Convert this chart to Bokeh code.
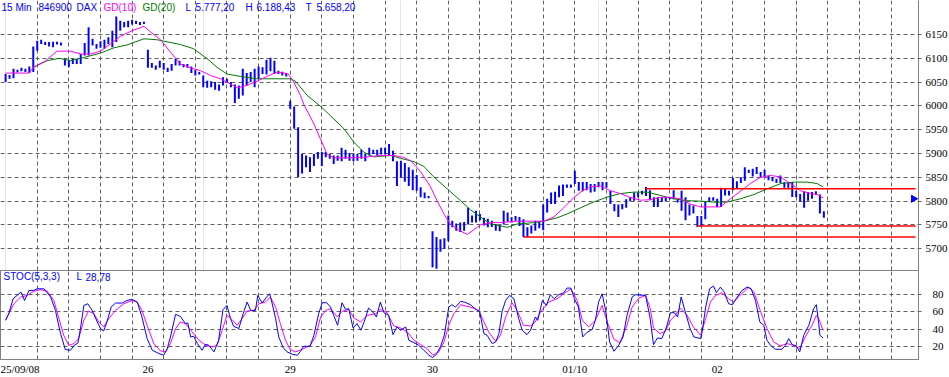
from bokeh.plotting import figure
from bokeh.layouts import column
from bokeh.models import FixedTicker, Grid, Range1d, Label
from bokeh.embed import file_html
from bokeh.resources import INLINE
import math

# ---------------- data ----------------
day_tick_bars = [3, 36, 72, 108, 144, 180]
day_labels = ["25/09/08", "26", "29", "30", "01/10", "02"]
price_ticks = [5700, 5750, 5800, 5850, 5900, 5950, 6000, 6050, 6100, 6150]
stoch_ticks = [20, 40, 60, 80]

bar_high = [6067, 6065, 6078, 6076, 6080, 6078, 6083, 6125, 6137, 6139,
            6134, 6134, 6135, 6135, 6133, 6099, 6095, 6099, 6099, 6109,
            6132, 6165, 6141, 6130, 6136, 6139, 6144, 6158, 6188, 6179,
            6176, 6179, 6181, 6179, 6176, 6177, 6118, 6090, 6085, 6095,
            6090, 6080, 6088, 6099, 6095, 6088, 6088, 6083, 6076, 6071,
            6064, 6053, 6052, 6050, 6045, 6060, 6057, 6050, 6045, 6043,
            6078, 6069, 6071, 6078, 6083, 6081, 6097, 6101, 6095, 6074,
            6072, 6069, 6011, 5999, 5955, 5899, 5896, 5892, 5899, 5903,
            5903, 5903, 5899, 5896, 5896, 5912, 5908, 5901, 5899, 5899,
            5908, 5899, 5912, 5908, 5908, 5912, 5912, 5920, 5906, 5884,
            5885, 5880, 5871, 5866, 5855, 5829, 5818, 5811, 5737, 5725,
            5720, 5722, 5770, 5759, 5753, 5755, 5756, 5786, 5770, 5780,
            5773, 5765, 5763, 5759, 5752, 5750, 5780, 5776, 5766, 5769,
            5767, 5762, 5745, 5749, 5759, 5758, 5793, 5805, 5818, 5820,
            5833, 5835, 5835, 5835, 5864, 5840, 5840, 5840, 5836, 5836,
            5840, 5840, 5840, 5822, 5794, 5793, 5794, 5804, 5808, 5818,
            5818, 5822, 5830, 5823, 5808, 5808, 5808, 5809, 5809, 5823,
            5804, 5822, 5808, 5793, 5791, 5769, 5769, 5798, 5808, 5808,
            5805, 5828, 5826, 5822, 5849, 5842, 5850, 5871, 5866, 5868,
            5872, 5861, 5866, 5854, 5850, 5847, 5854, 5840, 5840, 5840,
            5822, 5815, 5821, 5819, 5819, 5821, 5814, 5779]
bar_low = [6050, 6057, 6058, 6070, 6073, 6071, 6069, 6071, 6116, 6130,
           6128, 6125, 6123, 6129, 6127, 6085, 6081, 6088, 6088, 6088,
           6106, 6106, 6127, 6120, 6122, 6120, 6130, 6123, 6134, 6158,
           6165, 6165, 6171, 6172, 6170, 6172, 6080, 6080, 6076, 6080,
           6076, 6071, 6074, 6085, 6085, 6081, 6080, 6069, 6064, 6066,
           6039, 6038, 6039, 6034, 6032, 6043, 6050, 6039, 6006, 6015,
           6022, 6043, 6050, 6039, 6057, 6067, 6066, 6073, 6067, 6067,
           6064, 6062, 5994, 5952, 5851, 5858, 5871, 5861, 5874, 5889,
           5874, 5892, 5889, 5878, 5885, 5884, 5889, 5885, 5884, 5885,
           5889, 5884, 5896, 5899, 5896, 5898, 5898, 5896, 5884, 5832,
           5850, 5841, 5832, 5823, 5822, 5808, 5806, 5806, 5661, 5658,
           5694, 5700, 5716, 5745, 5738, 5735, 5738, 5751, 5755, 5755,
           5760, 5749, 5745, 5746, 5738, 5737, 5751, 5757, 5755, 5759,
           5748, 5725, 5725, 5732, 5738, 5743, 5739, 5776, 5794, 5794,
           5808, 5811, 5828, 5828, 5836, 5822, 5821, 5823, 5818, 5820,
           5829, 5823, 5828, 5794, 5779, 5767, 5783, 5786, 5800, 5801,
           5808, 5814, 5811, 5802, 5788, 5788, 5798, 5800, 5804, 5804,
           5797, 5780, 5760, 5770, 5774, 5746, 5748, 5762, 5798, 5801,
           5787, 5788, 5812, 5812, 5823, 5826, 5838, 5843, 5859, 5852,
           5857, 5850, 5852, 5844, 5842, 5838, 5838, 5828, 5828, 5809,
           5808, 5800, 5786, 5801, 5805, 5814, 5774, 5765]

gd10_bar = [0, 6, 7, 10, 13, 16.4, 19, 21.5, 24, 26.5, 29, 32, 35, 36.7, 39.2,
            41.7, 44.2, 46.8, 49.3, 51.8, 54.4, 56.9, 58.6, 61, 63.6, 66.1, 68.7,
            71.4, 72.9, 74.6, 75.4, 78, 80, 81.3, 83, 86.4, 90.6, 94.8, 98.2,
            100.7, 102.4, 103.3, 105, 107.5, 109.2, 110.9, 112.5, 114.5, 116.8,
            118, 120.1, 122.7, 125.2, 129.4, 133.6, 136.2, 138.7, 141.2, 143.8,
            145.8, 147.9, 150.5, 153, 155.5, 158, 160.6, 163, 165.6, 168.2,
            170.7, 173.2, 175.8, 180.8, 183.4, 185.9, 188.4, 191, 193.5, 196,
            198.5, 201.1, 203.6, 205.3, 206.8]
gd10_val = [6069, 6069, 6081, 6094, 6115, 6115, 6109, 6109, 6115, 6130, 6146,
            6158, 6167, 6155, 6139, 6113, 6088, 6080, 6074, 6064, 6057, 6046,
            6038, 6043, 6052, 6062, 6071, 6068, 6050, 6022, 6004, 5962, 5924,
            5899, 5891, 5891, 5892, 5896, 5896, 5892, 5885, 5878, 5862, 5830,
            5800, 5773, 5752, 5740, 5730, 5737, 5750, 5755, 5755, 5758, 5758,
            5758, 5767, 5786, 5808, 5821, 5830, 5832, 5822, 5816, 5808, 5802,
            5803, 5808, 5808, 5805, 5794, 5788, 5788, 5805, 5821, 5837, 5850,
            5854, 5851, 5837, 5822, 5816, 5814, 5807]

gd20_bar = [7, 10.5, 13.5, 16.4, 20, 24, 27.4, 30.7, 35, 38.3, 44.2, 47.6, 51,
            53.5, 56, 59.4, 63.6, 67.9, 72.1, 73.3, 76.3, 79.7, 83, 85.6, 88.1,
            90.6, 93.1, 97.4, 99.9, 103.3, 105.8, 108.3, 111.7, 115.1, 117.6,
            120.1, 122.7, 125.2, 126.9, 129.4, 133.6, 136.2, 139.5, 142, 145.4,
            148.7, 152, 155.5, 158.9, 162.3, 165.6, 169, 172.4, 175.8, 179.2,
            182.5, 185.9, 189.3, 192.7, 196.1, 199.5, 202.8, 205.3, 206.8]
gd20_val = [6081, 6095, 6100, 6095, 6102, 6111, 6122, 6128, 6141, 6139, 6129,
            6120, 6099, 6081, 6067, 6062, 6057, 6057, 6057, 6052, 6022, 5999,
            5973, 5952, 5924, 5903, 5893, 5896, 5890, 5883, 5873, 5851, 5826,
            5801, 5782, 5767, 5752, 5748, 5745, 5752, 5755, 5758, 5765, 5773,
            5786, 5798, 5808, 5816, 5819, 5819, 5812, 5805, 5801, 5800, 5798,
            5798, 5805, 5814, 5826, 5837, 5840, 5840, 5837, 5830]

stk_bar = [0, 0.8, 1.9, 3.4, 3.9, 4.8, 5.9, 7.1, 8, 9.7, 11.4, 12.6, 13.9, 15.1,
           16.4, 17.4, 18.3, 19, 19.8, 20.8, 21.9, 23.2, 24, 24.8, 25.5, 26.7,
           27.8, 29.5, 30.7, 32, 33.3, 34.5, 35.8, 37.1, 38.8, 40, 40.9, 41.7,
           43, 44.2, 45.5, 46.1, 46.8, 47.6, 48.5, 49.7, 50.6, 51.4, 52.7, 53.9,
           55, 56, 56.9, 57.7, 59, 60.1, 61.1, 62, 63.2, 63.8, 64.9, 66, 66.8,
           67.4, 68.3, 69.1, 70.2, 71.2, 72.5, 73.8, 74.6, 75.4, 77, 78, 79.2,
           80.1, 81.2, 82.2, 83, 84, 85.1, 86, 86.8, 87.9, 88.9, 89.9, 91, 91.8,
           92.9, 93.8, 94.8, 95.7, 96.9, 98, 99, 99.9, 101.2, 102, 103.3, 104.5,
           105.8, 107.1, 108, 108.9, 110, 111, 112.1, 112.9, 113.8, 115.1,
           116.1, 117.6, 118.9, 119.9, 121, 121.8, 123.1, 124, 124.8, 125.6,
           126.5, 127.5, 128.6, 129.8, 130.7, 131.9, 132.8, 134, 134.6, 135.8,
           136.8, 137.8, 138.8, 139.9, 141.2, 142, 143, 143.9, 144.9, 146, 147,
           148.4, 149.2, 150, 150.9, 151.8, 152.8, 153.9, 155.1, 156.2, 157.2,
           158.5, 159.3, 161.9, 163, 163.9, 164.9, 166, 167.2, 168.2, 169.2, 170,
           170.9, 172, 173.1, 174.1, 175.8, 176.2, 177.1, 178.1, 179.1, 179.8,
           180.8, 181.8, 182.9, 183.9, 184.9, 186.3, 187.6, 188.6, 189.7, 190.8,
           191.8, 192.6, 193.5, 194.7, 196.4, 197.3, 198.1, 199, 200, 200.9,
           201.9, 203.2, 204.4, 205.1, 205.7, 206, 206.8]
stk_val = [50.4, 58, 75, 80.7, 82.6, 73, 84.5, 84.5, 86.4, 86.4, 77, 61.7, 35.2,
           17, 16.2, 21.9, 24.5, 42.8, 67.4, 69.3, 61.7, 48.5, 40.9, 38.2, 46.6,
           65.5, 70.1, 70.1, 73.1, 74.3, 71.2, 54.1, 29.5, 16.2, 12.4, 10.5,
           18.1, 31.4, 57.2, 54.9, 46.6, 47.3, 31.4, 32.1, 23.8, 16.2, 23, 21.9,
           14.3, 27.6, 62.5, 67.4, 52.3, 43.5, 40.9, 58, 71.2, 61.7, 61.7, 78.8,
           70.1, 76.9, 80.7, 70.1, 52.3, 31.4, 19.2, 14.3, 11.6, 10.5, 15, 20.7,
           20.7, 33.3, 58, 70.5, 70.5, 65.5, 56, 44.7, 70.5, 62.9, 63.6, 41.6,
           46.6, 39, 52.3, 64.4, 59.9, 54.2, 71.2, 59.1, 56, 34, 42.8, 39, 42.8,
           27.6, 24.9, 21.9, 16.2, 10.5, 7.8, 11.2, 20, 33.3, 65.5, 68.2, 65.5,
           72, 71.2, 68.2, 62.9, 60.6, 35.2, 33.3, 23.8, 25.7, 35.2, 60.6, 73.1,
           78.8, 75, 52.3, 39, 34, 39, 54.2, 50.4, 73.1, 67.4, 79.6, 75, 79.6,
           81.9, 87.2, 87.2, 75, 65.5, 31.4, 36.3, 40.1, 50.4, 71.2, 80.7, 61.7,
           25.7, 15, 21.9, 31.4, 56, 77, 79.6, 78.8, 54.2, 22.6, 30.2, 29.5,
           42.8, 59.1, 59.1, 54.2, 77, 59.1, 41.6, 31.4, 29.5, 37.1, 65.5, 86.4,
           89.5, 81.9, 88.3, 82.6, 69.3, 68.2, 75.8, 84.5, 88.3, 86.4, 73.1,
           48.5, 44.7, 27.6, 21.9, 17.3, 17.3, 21.9, 29.5, 22.6, 21.1, 14.3,
           33.3, 44.7, 63.6, 68.2, 46.6, 33.3, 30.2]

std_bar = [0, 2.1, 3.8, 5.5, 7.2, 8.8, 10.5, 12.2, 13.5, 14.7, 16, 17.3, 18.5,
           19.8, 21, 22.3, 23.6, 24.8, 26.1, 27.8, 29.9, 32, 33.3, 34.5, 35.8,
           37.5, 39.2, 40.5, 41.7, 43, 44.2, 45.5, 47.2, 48.9, 50.6, 52.3, 53.5,
           54.8, 56, 57.3, 58.6, 59.8, 61.1, 62.8, 64.1, 65.7, 67, 68.3, 69.5,
           70.8, 72, 73.3, 75, 77.1, 78.4, 79.7, 81, 82.2, 83.9, 85.1, 86.8,
           88.1, 89.8, 91.5, 93.6, 94.8, 96.5, 98.2, 99.9, 101.6, 103.3, 105,
           106.6, 108.1, 109.6, 110.9, 112.1, 113.4, 115.1, 117.6, 119.7, 121,
           122.2, 124, 125.2, 126.5, 128.1, 129.4, 131, 132.8, 134, 135.3,
           137.4, 139.5, 141.2, 143, 144.6, 145.9, 147.5, 149.2, 150.9, 152.2,
           153.9, 155.4, 157.2, 158.5, 160.2, 161.9, 163.1, 163.9, 165.5, 166.9,
           168.2, 169.4, 170.7, 172.3, 174, 175.8, 177.1, 178.3, 179.6, 181.2,
           182.9, 184.2, 185.9, 188, 189.3, 190.9, 192.6, 194.3, 196, 197.7,
           199.3, 200.9, 202.3, 204, 205.1, 205.7, 206.8]
std_val = [50.4, 69.3, 76.9, 78.8, 83.8, 85.3, 83.8, 73.1, 52.3, 33.3, 21.9,
           23.8, 29.5, 50.4, 61, 58, 48.5, 42.8, 52.3, 61.7, 69.3, 73.1, 71.2,
           61.7, 44.7, 23.8, 15.4, 14.3, 23.8, 40.9, 48.5, 46.6, 37.1, 27.6,
           21.9, 20, 21.9, 39, 56.1, 51.1, 44.7, 52.3, 61, 61.7, 69.3, 71.2,
           76.9, 65.5, 46.6, 27.6, 17, 14.3, 17, 21.9, 31.4, 54.2, 61.7, 63.6,
           54.2, 60.6, 62.9, 53, 48.5, 56, 57.9, 62.9, 59.1, 43.9, 41.6, 37.1,
           27.6, 22.6, 18.1, 10.5, 14.3, 25.7, 44.7, 58, 68.2, 65.5, 61.7, 48.5,
           37.1, 26.4, 33.3, 54.2, 70.5, 61.7, 44.7, 43.9, 48.5, 59.9, 71.2, 75,
           80.7, 86.4, 73.1, 50.4, 42.8, 50.4, 67.4, 48.5, 28.7, 24.9, 44.7,
           65.5, 75.8, 78.8, 63.6, 41.6, 35.2, 37.8, 50.4, 56, 64.4, 56.8, 42.8,
           33.3, 52.3, 71.2, 78.8, 81.9, 75, 71.2, 79.6, 88.3, 82.6, 61.7, 40.9,
           25.7, 21.1, 23.8, 21.9, 18.1, 31.4, 44.7, 56, 52.3, 39]

# horizontal (support / resistance) lines drawn in the chart
hline_start_bar = [162, 131, 175]
hline_price = [5826, 5725, 5748]
hline_end_bar = 230.2
marker_price = 5805

header_items = ["15 Min", "846900", "DAX", "GD(10)", "GD(20)",
                "L", "5.777,20", "H", "6.188,43", "T", "5.658,20"]
stoc_items = ["STOC(5,3,3)", "L", "28,78"]

# ---------------- styling / geometry ----------------
BLUE = "#0000FF"
MAGENTA = "#FF00FF"
GREEN = "#007800"
RED = "#FF0000"
GRID = "#606060"
AXIS = "#808080"

X0_PX, DX_PX = 5.1, 3.953          # pixel position of bar 0 and bar spacing
FRAME_W, MAIN_H, STOC_H = 918, 270, 89
P_TOP, P_BOT = 6221.4, 5654.4
S_TOP, S_BOT = 107.3, 5.6

def bx(px):
    return (px - X0_PX) / DX_PX

def py(px):
    return P_TOP - px * (P_TOP - P_BOT) / MAIN_H

def sy(px):
    return S_TOP - (px - MAIN_H) * (S_TOP - S_BOT) / STOC_H

xr = Range1d(bx(0), bx(FRAME_W))
vgrid_ticks = list(range(8, 231, 8))

# ---------------- main price panel ----------------
p = figure(frame_width=FRAME_W, frame_height=MAIN_H, x_range=xr,
           y_range=Range1d(P_BOT, P_TOP), output_backend="svg",
           toolbar_location=None, x_axis_location=None, y_axis_location="right",
           min_border_left=0, min_border_top=0, min_border_bottom=0,
           min_border_right=0, background_fill_color="white",
           border_fill_color="white")
p.outline_line_color = None
p.yaxis.ticker = FixedTicker(ticks=price_ticks)
p.yaxis.axis_line_color = AXIS
p.yaxis.major_tick_line_color = GRID
p.yaxis.major_tick_out = 3
p.yaxis.major_tick_in = 0
p.yaxis.minor_tick_line_color = None
p.yaxis.major_label_standoff = 4
p.yaxis.major_label_text_font = "Liberation Serif"
p.yaxis.major_label_text_font_size = "11px"
p.yaxis.major_label_text_color = "black"
p.ygrid.grid_line_color = GRID
p.ygrid.grid_line_dash = "4 3"
p.add_layout(Grid(dimension=0, ticker=FixedTicker(ticks=vgrid_ticks),
                  grid_line_color=GRID, grid_line_dash="4 3"))

idx = list(range(len(bar_high)))
p.vbar(x=idx, width=0.5, top=bar_high, bottom=bar_low, fill_color=BLUE,
       line_color=None)
p.line(gd20_bar, gd20_val, line_color=GREEN, line_width=1)
p.line(gd10_bar, gd10_val, line_color=MAGENTA, line_width=1)
p.segment(x0=hline_start_bar, y0=hline_price,
          x1=[hline_end_bar] * len(hline_price), y1=hline_price,
          line_color=RED, line_width=1.5)
p.scatter(x=[bx(913)], y=[marker_price], marker="triangle", angle=-math.pi / 2,
          size=7, fill_color=BLUE, line_color=BLUE)

header_px = [1, 38, 76, 103, 142, 185, 195, 245, 256, 305, 316]
header_col = [BLUE, BLUE, BLUE, MAGENTA, GREEN, BLUE, BLUE, BLUE, BLUE, BLUE, BLUE]
for t, xp, c in zip(header_items, header_px, header_col):
    p.add_layout(Label(x=bx(xp), y=py(6.5), text=t, text_color=c,
                       text_font="Liberation Sans", text_font_size="10px",
                       text_baseline="middle", text_align="left"))

# ---------------- stochastic panel ----------------
p2 = figure(frame_width=FRAME_W, frame_height=STOC_H, x_range=xr,
            y_range=Range1d(S_BOT, S_TOP), output_backend="svg",
            toolbar_location=None, x_axis_location="below", y_axis_location="right",
            min_border_left=0, min_border_top=0, min_border_bottom=0,
            min_border_right=0, background_fill_color="white",
            border_fill_color="white")
p2.outline_line_color = AXIS
p2.yaxis.ticker = FixedTicker(ticks=stoch_ticks)
p2.yaxis.axis_line_color = AXIS
p2.yaxis.major_tick_line_color = GRID
p2.yaxis.major_tick_out = 3
p2.yaxis.major_tick_in = 0
p2.yaxis.minor_tick_line_color = None
p2.yaxis.major_label_standoff = 11
p2.yaxis.major_label_text_font = "Liberation Serif"
p2.yaxis.major_label_text_font_size = "11px"
p2.yaxis.major_label_text_color = "black"
p2.xaxis.ticker = FixedTicker(ticks=day_tick_bars)
p2.xaxis.major_label_overrides = {b: l for b, l in zip(day_tick_bars, day_labels)}
p2.xaxis.axis_line_color = AXIS
p2.xaxis.major_tick_line_color = None
p2.xaxis.major_tick_out = 0
p2.xaxis.major_tick_in = 0
p2.xaxis.minor_tick_line_color = None
p2.xaxis.major_label_standoff = 3
p2.xaxis.major_label_text_font = "Liberation Serif"
p2.xaxis.major_label_text_font_size = "11px"
p2.xaxis.major_label_text_color = "black"
p2.xgrid.ticker = FixedTicker(ticks=vgrid_ticks)
p2.xgrid.grid_line_color = GRID
p2.xgrid.grid_line_dash = "4 3"
p2.ygrid.grid_line_color = GRID
p2.ygrid.grid_line_dash = "4 3"

p2.line(std_bar, std_val, line_color=MAGENTA, line_width=1)
p2.line(stk_bar, stk_val, line_color=BLUE, line_width=1)

stoc_px = [3, 76, 85]
for t, xp in zip(stoc_items, stoc_px):
    p2.add_layout(Label(x=bx(xp), y=sy(276), text=t, text_color=BLUE,
                        text_font="Liberation Sans", text_font_size="10px",
                        text_baseline="middle", text_align="left"))

layout = column(p, p2, spacing=0)
open("out.html", "w").write(file_html(layout, INLINE))
